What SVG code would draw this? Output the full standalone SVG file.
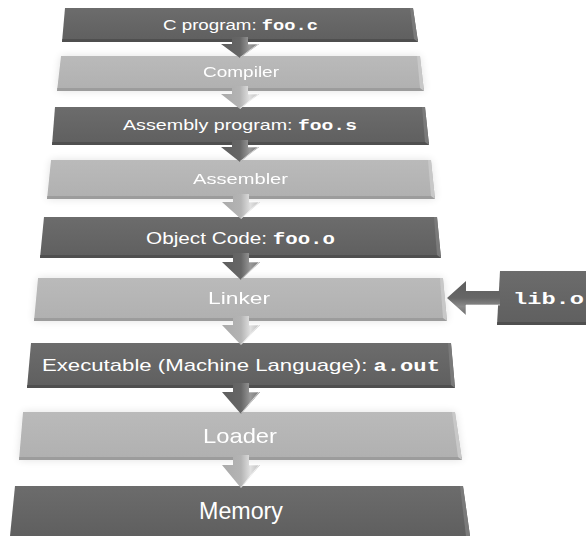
<svg xmlns="http://www.w3.org/2000/svg" width="586" height="536" viewBox="0 0 586 536">
<defs>
<linearGradient id="gDark" x1="0" y1="0" x2="0" y2="1">
<stop offset="0" stop-color="#6c6c6c"/><stop offset="1" stop-color="#5f5f5f"/>
</linearGradient>
<linearGradient id="gLight" x1="0" y1="0" x2="0" y2="1">
<stop offset="0" stop-color="#bababa"/><stop offset="1" stop-color="#b0b0b0"/>
</linearGradient>
<linearGradient id="gArrD" x1="0" y1="0" x2="1" y2="0">
<stop offset="0" stop-color="#5e5e5e"/><stop offset="0.5" stop-color="#666"/><stop offset="0.75" stop-color="#999"/><stop offset="1" stop-color="#777"/>
</linearGradient>
<linearGradient id="gArrL" x1="0" y1="0" x2="1" y2="0">
<stop offset="0" stop-color="#aaa"/><stop offset="0.5" stop-color="#b4b4b4"/><stop offset="0.75" stop-color="#e0e0e0"/><stop offset="1" stop-color="#bdbdbd"/>
</linearGradient>
<linearGradient id="gArrH" x1="0" y1="0" x2="0" y2="1">
<stop offset="0" stop-color="#5e5e5e"/><stop offset="0.5" stop-color="#666"/><stop offset="0.75" stop-color="#8a8a8a"/><stop offset="1" stop-color="#6e6e6e"/>
</linearGradient>
<filter id="glow" x="-10%" y="-40%" width="120%" height="180%">
<feGaussianBlur in="SourceAlpha" stdDeviation="4"/>
<feComponentTransfer><feFuncA type="linear" slope="0.12"/></feComponentTransfer>
<feMerge><feMergeNode/><feMergeNode in="SourceGraphic"/></feMerge>
</filter>
</defs>
<style>
.dark{fill:url(#gDark)}
.light{fill:url(#gLight)}
.dbev{fill:#4f4f4f}
.lbev{fill:#9c9c9c}
.dside{fill:#7a7a7a}
.lside{fill:#c8c8c8}
.t{font-family:"Liberation Sans",Arial,sans-serif;fill:#ffffff;text-anchor:middle}
.m{font-family:"Liberation Mono","Courier New",monospace;font-weight:bold}
.ad{fill:url(#gArrD)}
.al{fill:url(#gArrL)}
.ah{fill:url(#gArrH)}
.hl{fill:none;stroke:#ffffff;stroke-opacity:0.6;stroke-width:1}
</style>

<g id="node-cprogram">
<polygon class="dark" points="65,8 413,8 418,42 62,42"/>
<polygon class="dbev" points="62.4,39 417.6,39 418,42 62,42"/>
<polygon class="dside" points="410,8 413,8 418,42 414,39"/>
<text class="t" x="240.5" y="30" font-size="14" textLength="155" lengthAdjust="spacingAndGlyphs">C program: <tspan class="m">foo.c</tspan></text>
</g>

<g id="node-compiler" filter="url(#glow)">
<polygon class="light" points="61,56 420,56 424,91 57,91"/>
<polygon class="lbev" points="57.3,88 423.7,88 424,91 57,91"/>
<polygon class="lside" points="417,56 420,56 424,91 420,88"/>
<text class="t" x="241" y="77" font-size="14" textLength="76" lengthAdjust="spacingAndGlyphs">Compiler</text>
</g>

<g id="node-assembly">
<polygon class="dark" points="55,107 425,107 429,145 52,145"/>
<polygon class="dbev" points="52.3,142 428.7,142 429,145 52,145"/>
<polygon class="dside" points="422,107 425,107 429,145 425,142"/>
<text class="t" x="240" y="129.5" font-size="15" textLength="234" lengthAdjust="spacingAndGlyphs">Assembly program: <tspan class="m">foo.s</tspan></text>
</g>

<g id="node-assembler" filter="url(#glow)">
<polygon class="light" points="51,160 431,160 435,199 47,199"/>
<polygon class="lbev" points="47.3,196 434.7,196 435,199 47,199"/>
<polygon class="lside" points="428,160 431,160 435,199 431,196"/>
<text class="t" x="240.5" y="183.5" font-size="15" textLength="95" lengthAdjust="spacingAndGlyphs">Assembler</text>
</g>

<g id="node-object">
<polygon class="dark" points="44,217 437,217 441,258 40,258"/>
<polygon class="dbev" points="40.3,255 440.7,255 441,258 40,258"/>
<polygon class="dside" points="434,217 437,217 441,258 437,255"/>
<text class="t" x="240.5" y="243.5" font-size="16" textLength="189" lengthAdjust="spacingAndGlyphs">Object Code: <tspan class="m">foo.o</tspan></text>
</g>

<g id="node-linker" filter="url(#glow)">
<polygon class="light" points="38,278 443,278 447,321 34,321"/>
<polygon class="lbev" points="34.3,318 446.7,318 447,321 34,321"/>
<polygon class="lside" points="440,278 443,278 447,321 443,318"/>
<text class="t" x="239" y="303.5" font-size="16" textLength="62" lengthAdjust="spacingAndGlyphs">Linker</text>
</g>

<g id="node-libo">
<polygon class="dark" points="500,271 586,271 586,325 497,325"/>
<polygon class="dbev" points="497.3,322 586,322 586,325 497,325"/>
<text class="t m" x="548.5" y="303.5" font-size="16" textLength="71" lengthAdjust="spacingAndGlyphs">lib.o</text>
</g>

<g id="node-executable">
<polygon class="dark" points="31,343 451,343 455,388 27,388"/>
<polygon class="dbev" points="27.3,385 454.7,385 455,388 27,388"/>
<polygon class="dside" points="448,343 451,343 455,388 451,385"/>
<text class="t" x="241" y="371" font-size="17" textLength="398" lengthAdjust="spacingAndGlyphs">Executable (Machine Language): <tspan class="m">a.out</tspan></text>
</g>

<g id="node-loader" filter="url(#glow)">
<polygon class="light" points="23,412 455,412 462,460 19,460"/>
<polygon class="lbev" points="19.3,457 461.6,457 462,460 19,460"/>
<polygon class="lside" points="452,412 455,412 462,460 458,457"/>
<text class="t" x="240" y="443" font-size="21" textLength="74" lengthAdjust="spacingAndGlyphs">Loader</text>
</g>

<g id="node-memory">
<polygon class="dark" points="15,486 463,486 470,536 10,536"/>
<polygon class="dside" points="460,486 463,486 470,536 466,536"/>
<text class="t" x="241" y="518.5" font-size="23" textLength="84" lengthAdjust="spacingAndGlyphs">Memory</text>
</g>

<g id="connectors">
<polygon class="ad" points="232,37 248,37 248,44 259,44 240,58 221,44 232,44"/>
<polyline class="hl" points="248,44 258,44 240,57.5"/>
<polygon class="al" points="232,86 248,86 248,94 259,94 240,109 221,94 232,94"/>
<polyline class="hl" points="248,94 258,94 240,108.5"/>
<polygon class="ad" points="232,140 248,140 248,147 259,147 240,162 221,147 232,147"/>
<polyline class="hl" points="248,147 258,147 240,161.5"/>
<polygon class="al" points="233,194 249,194 249,202 260,202 241,219 222,202 233,202"/>
<polyline class="hl" points="249,202 259,202 241,218.5"/>
<polygon class="ad" points="233,253 249,253 249,262 260,262 241,280 222,262 233,262"/>
<polyline class="hl" points="249,262 259,262 241,279.5"/>
<polygon class="al" points="233,316 249,316 249,325 260,325 241,345 222,325 233,325"/>
<polyline class="hl" points="249,325 259,325 241,344.5"/>
<polygon class="ad" points="233,383 249,383 249,392 260,392 241,414 222,392 233,392"/>
<polyline class="hl" points="249,392 259,392 241,413.5"/>
<polygon class="al" points="233,455 249,455 249,465 260,465 241,488 222,465 233,465"/>
<polyline class="hl" points="249,465 259,465 241,487.5"/>
<polygon class="ah" points="500,291 466,291 466,281 447,298 466,315 466,305 500,305"/>
<polyline class="hl" points="466,315 466,305 500,305"/>
</g>
</svg>
